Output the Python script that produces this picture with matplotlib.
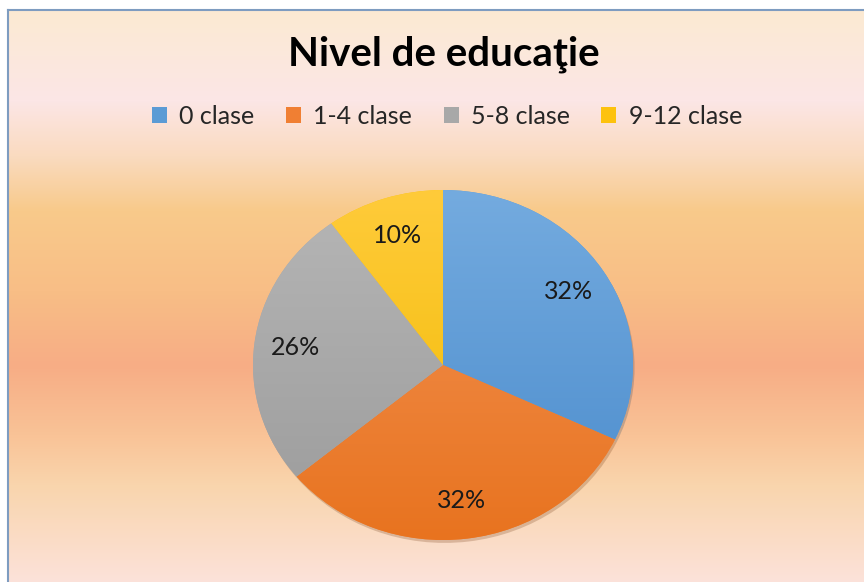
import numpy as np
import matplotlib
matplotlib.use("Agg")
import matplotlib.pyplot as plt
from matplotlib.colors import LinearSegmentedColormap, to_rgb

# ---- data ----
categories = ["0 clase", "1-4 clase", "5-8 clase", "9-12 clase"]
values = [32, 32, 26, 10]
title = "Nivel de educaţie"

colors = ["#5B9BD5", "#F07F33", "#A8A8A8", "#FDC20E"]
grad_top = ["#74ABDF", "#F39457", "#B6B6B6", "#FFCB3A"]
grad_bot = ["#4A8BCC", "#E8731F", "#9B9B9B", "#F0BA00"]

plt.rcParams['font.family'] = ['Lato', 'DejaVu Sans']

W, H = 864, 582
fig = plt.figure(figsize=(W / 100, H / 100), dpi=100)
fig.patch.set_facecolor("white")

# ---- background gradient ----
top_px, left_px = 10, 8
stops = [(10, "#FBEAD2"), (100, "#FCE6E6"), (155, "#FADBC0"), (210, "#F8CA8B"),
         (290, "#F8BE86"), (365, "#F7AD85"), (435, "#F9C397"), (485, "#F9D5AD"),
         (582, "#FCE2DA")]
ys = np.arange(top_px, H)
sp = np.array([s[0] for s in stops], float)
cols = np.array([to_rgb(s[1]) for s in stops])
grad = np.stack([np.interp(ys, sp, cols[:, i]) for i in range(3)], axis=-1)[:, None, :]
bg = fig.add_axes([left_px / W, 0, 1 - left_px / W, (H - top_px) / H])
bg.imshow(grad, aspect='auto', extent=[0, 1, 0, 1], origin='upper')
bg.set_xlim(0, 1)
bg.set_ylim(0, 1)
bg.set_xticks([])
bg.set_yticks([])
for s in ["right", "bottom"]:
    bg.spines[s].set_visible(False)
for s in ["top", "left"]:
    bg.spines[s].set_color("#7E9CC0")
    bg.spines[s].set_linewidth(1.5)

# ---- pie ----
cx, cy, rx, ry = 443, 365, 190, 175
ax = fig.add_axes([(cx - rx) / W, (H - cy - ry) / H, 2 * rx / W, 2 * ry / H])
ax.patch.set_alpha(0)
wedges, texts, autotexts = ax.pie(
    values, colors=colors, startangle=90, counterclock=False,
    autopct='%.0f%%', pctdistance=0.78,
    textprops=dict(fontsize=18, color="#1a1a1a"),
    wedgeprops=dict(linewidth=0),
    shadow=dict(ox=0.006, oy=-0.012, shade=0.5, alpha=0.25))
for w, t, b in zip(wedges, grad_top, grad_bot):
    cmap = LinearSegmentedColormap.from_list("g", [b, t])
    g = np.linspace(0, 1, 256)[:, None]
    im = ax.imshow(g, cmap=cmap, extent=[-1, 1, -1, 1], origin='lower',
                   aspect='auto', zorder=w.get_zorder() + 0.1)
    im.set_clip_path(w)
for t in autotexts:
    t.set_zorder(5)
ax.set_aspect('auto')
ax.set_xlim(-1, 1)
ax.set_ylim(-1, 1)
ax.axis('off')

# ---- title ----
fig.text(444 / W, 1 - 54 / H, title, ha='center', va='center',
         fontsize=29, fontweight='bold', color='black')

# ---- legend ----
leg = fig.legend(wedges, categories, loc='center', ncol=4,
                 bbox_to_anchor=(447 / W, 1 - 116 / H), frameon=False,
                 fontsize=18, handlelength=0.6, handleheight=0.6,
                 handletextpad=0.5, columnspacing=1.25)
for t in leg.get_texts():
    t.set_color("#262626")

fig.savefig("out.png", dpi=100)
